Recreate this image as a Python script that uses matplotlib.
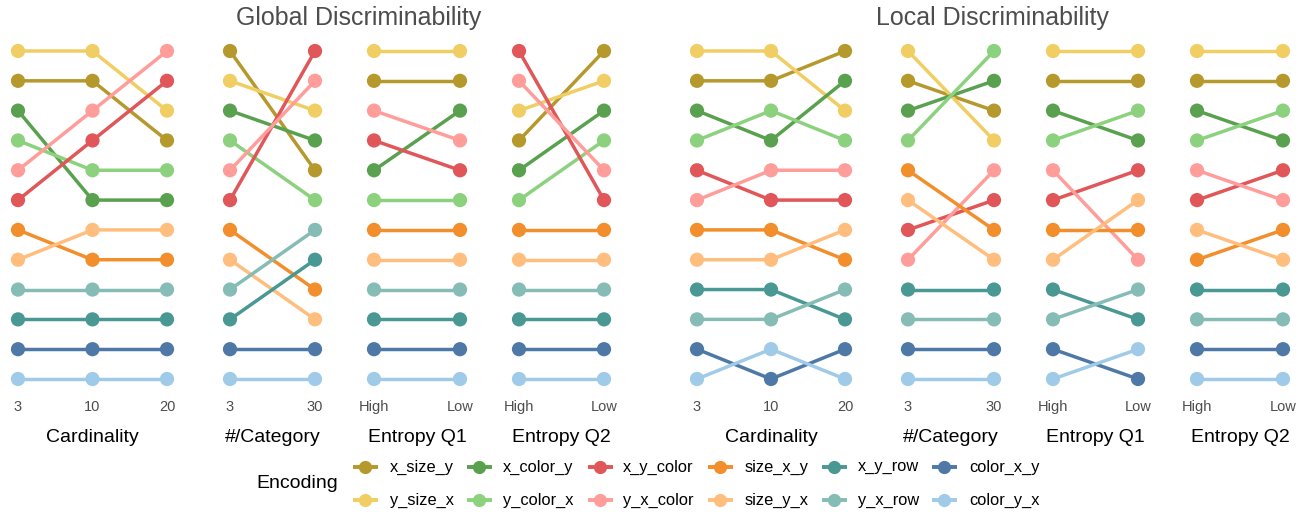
import matplotlib
matplotlib.use("Agg")
import matplotlib.pyplot as plt

plt.rcParams['font.family'] = ['Liberation Sans', 'DejaVu Sans']

# Encodings in legend order, with their colours
encodings = ["x_size_y", "y_size_x", "x_color_y", "y_color_x", "x_y_color", "y_x_color",
             "size_x_y", "size_y_x", "x_y_row", "y_x_row", "color_x_y", "color_y_x"]
enc_colors = ["#B6992D", "#F1CE63", "#59A14F", "#8CD17D", "#E15759", "#FF9D9A",
              "#F28E2B", "#FFBE7D", "#499894", "#86BCB6", "#4E79A7", "#A0CBE8"]

# Rankings per factor level, best (rank 1) first
card_levels = ["3", "10", "20"]
cat_levels = ["3", "30"]
ent_levels = ["High", "Low"]

global_cardinality = [
    ["y_size_x", "x_size_y", "x_color_y", "y_color_x", "y_x_color", "x_y_color",
     "size_x_y", "size_y_x", "y_x_row", "x_y_row", "color_x_y", "color_y_x"],
    ["y_size_x", "x_size_y", "y_x_color", "x_y_color", "y_color_x", "x_color_y",
     "size_y_x", "size_x_y", "y_x_row", "x_y_row", "color_x_y", "color_y_x"],
    ["y_x_color", "x_y_color", "y_size_x", "x_size_y", "y_color_x", "x_color_y",
     "size_y_x", "size_x_y", "y_x_row", "x_y_row", "color_x_y", "color_y_x"],
]
global_category = [
    ["x_size_y", "y_size_x", "x_color_y", "y_color_x", "y_x_color", "x_y_color",
     "size_x_y", "size_y_x", "y_x_row", "x_y_row", "color_x_y", "color_y_x"],
    ["x_y_color", "y_x_color", "y_size_x", "x_color_y", "x_size_y", "y_color_x",
     "y_x_row", "x_y_row", "size_x_y", "size_y_x", "color_x_y", "color_y_x"],
]
global_entropy_q1 = [
    ["y_size_x", "x_size_y", "y_x_color", "x_y_color", "x_color_y", "y_color_x",
     "size_x_y", "size_y_x", "y_x_row", "x_y_row", "color_x_y", "color_y_x"],
    ["y_size_x", "x_size_y", "x_color_y", "y_x_color", "x_y_color", "y_color_x",
     "size_x_y", "size_y_x", "y_x_row", "x_y_row", "color_x_y", "color_y_x"],
]
global_entropy_q2 = [
    ["x_y_color", "y_x_color", "y_size_x", "x_size_y", "x_color_y", "y_color_x",
     "size_x_y", "size_y_x", "y_x_row", "x_y_row", "color_x_y", "color_y_x"],
    ["x_size_y", "y_size_x", "x_color_y", "y_color_x", "y_x_color", "x_y_color",
     "size_x_y", "size_y_x", "y_x_row", "x_y_row", "color_x_y", "color_y_x"],
]
local_cardinality = [
    ["y_size_x", "x_size_y", "x_color_y", "y_color_x", "x_y_color", "y_x_color",
     "size_x_y", "size_y_x", "x_y_row", "y_x_row", "color_x_y", "color_y_x"],
    ["y_size_x", "x_size_y", "y_color_x", "x_color_y", "y_x_color", "x_y_color",
     "size_x_y", "size_y_x", "x_y_row", "y_x_row", "color_y_x", "color_x_y"],
    ["x_size_y", "x_color_y", "y_size_x", "y_color_x", "y_x_color", "x_y_color",
     "size_y_x", "size_x_y", "y_x_row", "x_y_row", "color_x_y", "color_y_x"],
]
local_category = [
    ["y_size_x", "x_size_y", "x_color_y", "y_color_x", "size_x_y", "size_y_x",
     "x_y_color", "y_x_color", "x_y_row", "y_x_row", "color_x_y", "color_y_x"],
    ["y_color_x", "x_color_y", "x_size_y", "y_size_x", "y_x_color", "x_y_color",
     "size_x_y", "size_y_x", "x_y_row", "y_x_row", "color_x_y", "color_y_x"],
]
local_entropy_q1 = [
    ["y_size_x", "x_size_y", "x_color_y", "y_color_x", "y_x_color", "x_y_color",
     "size_x_y", "size_y_x", "x_y_row", "y_x_row", "color_x_y", "color_y_x"],
    ["y_size_x", "x_size_y", "y_color_x", "x_color_y", "x_y_color", "size_y_x",
     "size_x_y", "y_x_color", "y_x_row", "x_y_row", "color_y_x", "color_x_y"],
]
local_entropy_q2 = [
    ["y_size_x", "x_size_y", "x_color_y", "y_color_x", "y_x_color", "x_y_color",
     "size_y_x", "size_x_y", "x_y_row", "y_x_row", "color_x_y", "color_y_x"],
    ["y_size_x", "x_size_y", "y_color_x", "x_color_y", "x_y_color", "y_x_color",
     "size_x_y", "size_y_x", "x_y_row", "y_x_row", "color_x_y", "color_y_x"],
]

facets = [
    ("Cardinality", card_levels, global_cardinality),
    ("#/Category", cat_levels, global_category),
    ("Entropy Q1", ent_levels, global_entropy_q1),
    ("Entropy Q2", ent_levels, global_entropy_q2),
    ("Cardinality", card_levels, local_cardinality),
    ("#/Category", cat_levels, local_category),
    ("Entropy Q1", ent_levels, local_entropy_q1),
    ("Entropy Q2", ent_levels, local_entropy_q2),
]

# Layout (pixels): first point x, distance between levels
W, H = 1309, 512
facet_x0 = [18, 230, 374, 519, 697, 908, 1053, 1197]
facet_step = [74.5, 85, 86, 85, 74, 86, 85, 86]
pad = 13
y_top, y_bot = 51, 379
rank_step = (y_bot - y_top) / 11.0

fig = plt.figure(figsize=(W / 100, H / 100), dpi=100)

for (label, levels, rankings), x0, step in zip(facets, facet_x0, facet_step):
    n = len(levels)
    span = step * (n - 1)
    ax = fig.add_axes([(x0 - pad) / W, 1 - (y_bot + pad) / H,
                       (span + 2 * pad) / W, (y_bot - y_top + 2 * pad) / H])
    ax.set_xlim(-pad / step, n - 1 + pad / step)
    ax.set_ylim(12 + pad / rank_step, 1 - pad / rank_step)
    xs = list(range(n))
    for enc, col in zip(encodings, enc_colors):
        ranks = [r.index(enc) + 1 for r in rankings]
        ax.plot(xs, ranks, color=col, lw=2.5, solid_capstyle='butt', zorder=2)
    for enc, col in zip(encodings, enc_colors):
        ranks = [r.index(enc) + 1 for r in rankings]
        ax.scatter(xs, ranks, s=105, color=col, edgecolors='none', zorder=3)
    ax.set_xticks(xs)
    ax.set_xticklabels(levels)
    ax.set_yticks([])
    ax.tick_params(axis='x', length=0, pad=6, labelsize=10.5, labelcolor='#4d4d4d')
    for s in ax.spines.values():
        s.set_visible(False)
    ax.set_xlabel(label, fontsize=14, labelpad=10.5, color='black')
    ax.patch.set_alpha(0)

fig.text(359 / W, 1 - 18 / H, "Global Discriminability", ha='center', va='center',
         fontsize=18, color='#4d4d4d')
fig.text(992 / W, 1 - 18 / H, "Local Discriminability", ha='center', va='center',
         fontsize=18, color='#4d4d4d')

# Legend: two rows, six columns, drawn in a pixel-space overlay
leg = fig.add_axes([0, 0, 1, 1])
leg.set_xlim(0, W)
leg.set_ylim(H, 0)
leg.axis('off')
leg.patch.set_alpha(0)
key_cx = [365, 479, 600, 720, 834, 944]
text_x = [390, 503, 623, 745, 858, 969]
row_y = [467, 500]
key_half = 12.5
for i, (enc, col) in enumerate(zip(encodings, enc_colors)):
    c, r = divmod(i, 2)
    cx, cy = key_cx[c], row_y[r]
    leg.plot([cx - key_half, cx + key_half], [cy, cy], color=col, lw=2.8,
             solid_capstyle='butt')
    leg.plot([cx], [cy], marker='o', markersize=9.5, color=col, markeredgewidth=0)
    leg.text(text_x[c], cy, enc, ha='left', va='center', fontsize=11.8, color='black')
leg.text(297, 484, "Encoding", ha='center', va='center', fontsize=14, color='black')

fig.savefig("out.png", dpi=100, facecolor='white')
